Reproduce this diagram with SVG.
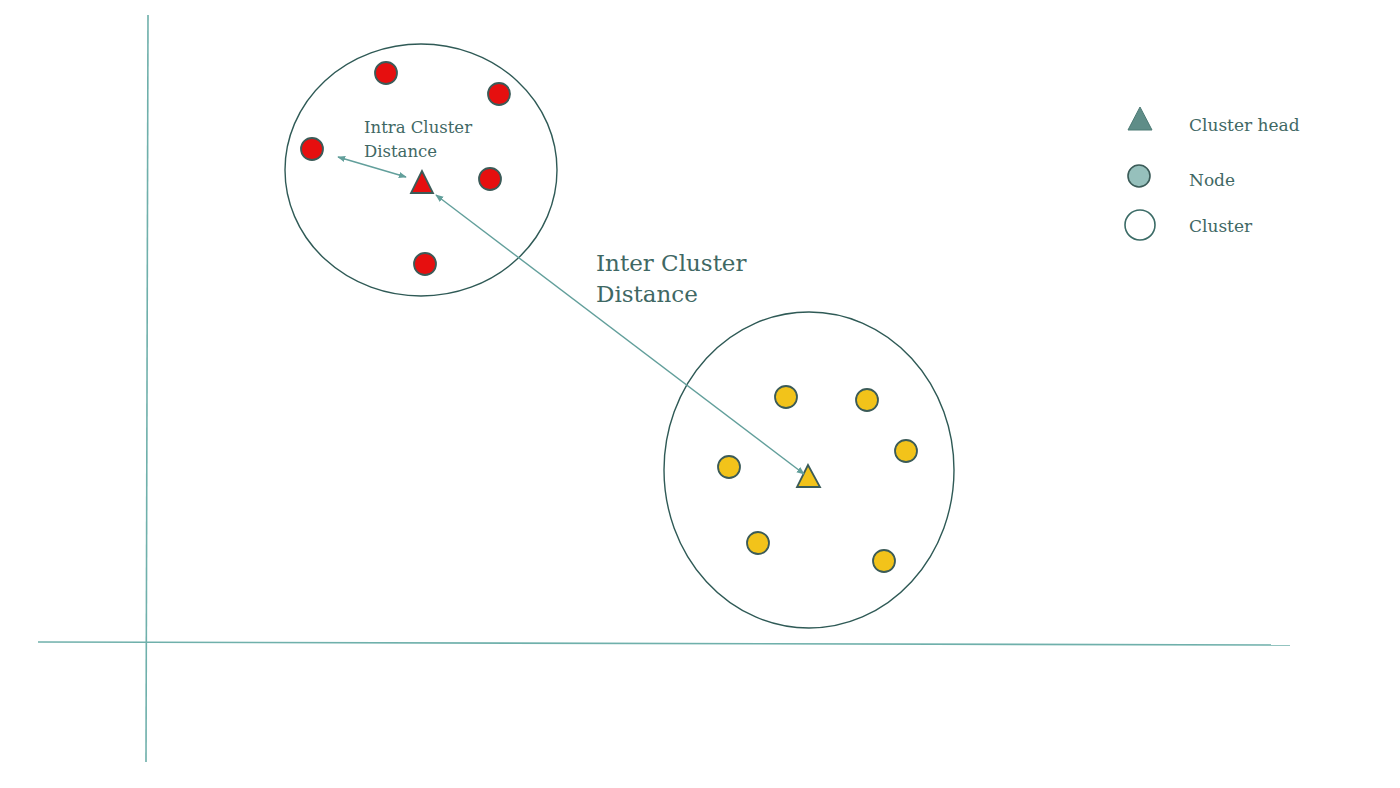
<svg xmlns="http://www.w3.org/2000/svg" width="1400" height="788" viewBox="0 0 1400 788">
<defs>
<style>
.axis{stroke:#6fb0ab;stroke-width:1.6;fill:none}
.cluster{fill:none;stroke:#2f5a56;stroke-width:1.4}
.red{fill:#e60f0f;stroke:#3b5b58;stroke-width:1.8}
.yel{fill:#f2c31a;stroke:#3b5b58;stroke-width:1.8}
.conn{stroke:#629f9b;stroke-width:1.4;fill:none}
.t{font-family:"DejaVu Serif","Liberation Serif",serif;fill:#3f6864}
</style>
<marker id="ah" viewBox="0 0 10 10" refX="9" refY="5" markerWidth="8" markerHeight="8" orient="auto-start-reverse" markerUnits="userSpaceOnUse">
<path d="M0,1 L10,5 L0,9 z" fill="#629f9b"/>
</marker>
</defs>
<rect width="1400" height="788" fill="#ffffff"/>
<g id="axes">
<line class="axis" x1="148" y1="15" x2="146" y2="762"/>
<line class="axis" x1="38" y1="642" x2="1290" y2="645"/>
</g>
<g id="cluster1">
<ellipse class="cluster" cx="421" cy="170" rx="136" ry="126"/>
<circle class="red" cx="386" cy="73" r="11"/>
<circle class="red" cx="499" cy="94" r="11"/>
<circle class="red" cx="312" cy="149" r="11"/>
<circle class="red" cx="490" cy="179" r="11"/>
<circle class="red" cx="425" cy="264" r="11"/>
<polygon class="red" points="422,171 411,193 433,193"/>
</g>
<g id="cluster2">
<ellipse class="cluster" cx="809" cy="470" rx="145" ry="158"/>
<circle class="yel" cx="786" cy="397" r="11"/>
<circle class="yel" cx="867" cy="400" r="11"/>
<circle class="yel" cx="906" cy="451" r="11"/>
<circle class="yel" cx="729" cy="467" r="11"/>
<circle class="yel" cx="758" cy="543" r="11"/>
<circle class="yel" cx="884" cy="561" r="11"/>
<polygon class="yel" points="808,465 797,487 820,487"/>
</g>
<g id="connectors">
<line class="conn" x1="338" y1="157" x2="406" y2="177" marker-start="url(#ah)" marker-end="url(#ah)"/>
<line class="conn" x1="436" y1="195" x2="804" y2="474" marker-start="url(#ah)" marker-end="url(#ah)"/>
</g>
<g id="labels">
<text class="t" x="364" y="133" font-size="16.5">Intra Cluster</text>
<text class="t" x="364" y="157" font-size="16.5">Distance</text>
<text class="t" x="596" y="271" font-size="23">Inter Cluster</text>
<text class="t" x="596" y="302" font-size="23">Distance</text>
</g>
<g id="legend">
<polygon points="1140,107 1128,130 1152,130" fill="#5f8d88" stroke="#4c7a75" stroke-width="1"/>
<circle cx="1139" cy="176" r="11" fill="#96c0bc" stroke="#3b5b58" stroke-width="1.6"/>
<circle cx="1140" cy="225" r="15" fill="#ffffff" stroke="#3b6b66" stroke-width="1.6"/>
<text class="t" x="1189" y="131" font-size="17">Cluster head</text>
<text class="t" x="1189" y="186" font-size="17">Node</text>
<text class="t" x="1189" y="232" font-size="17">Cluster</text>
</g>
</svg>
